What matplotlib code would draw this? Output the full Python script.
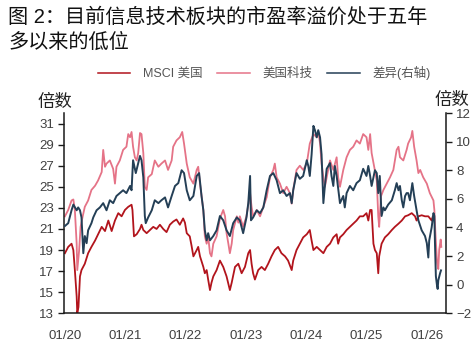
import numpy as np
import pandas as pd
import matplotlib
matplotlib.use("Agg")
import matplotlib.pyplot as plt
import matplotlib.dates as mdates

plt.rcParams['font.family'] = ['Liberation Sans', 'Noto Sans CJK SC', 'DejaVu Sans']

# ---- data (time as decimal year, P/E multiples) ----
tech_t = [2020.00, 2020.055, 2020.11, 2020.14, 2020.165, 2020.195, 2020.205, 2020.235, 2020.26, 2020.295,
          2020.33, 2020.385, 2020.44, 2020.50, 2020.55, 2020.61, 2020.635, 2020.665, 2020.69, 2020.745,
          2020.80, 2020.83, 2020.855, 2020.91, 2020.965, 2021.02, 2021.05, 2021.08, 2021.105, 2021.13,
          2021.16, 2021.19, 2021.215, 2021.245, 2021.27, 2021.30, 2021.325, 2021.355, 2021.38, 2021.44,
          2021.49, 2021.55, 2021.60, 2021.66, 2021.71, 2021.77, 2021.795, 2021.85, 2021.905, 2021.945,
          2021.975, 2022.02, 2022.07, 2022.13, 2022.185, 2022.21, 2022.24, 2022.295, 2022.32, 2022.35,
          2022.375, 2022.405, 2022.43, 2022.46, 2022.515, 2022.57, 2022.625, 2022.655, 2022.68, 2022.71,
          2022.735, 2022.765, 2022.79, 2022.85, 2022.875, 2022.90, 2022.955, 2023.01, 2023.07, 2023.095,
          2023.12, 2023.18, 2023.235, 2023.29, 2023.345, 2023.40, 2023.455, 2023.48, 2023.51, 2023.565,
          2023.62, 2023.675, 2023.73, 2023.76, 2023.785, 2023.84, 2023.895, 2023.95, 2024.01, 2024.06,
          2024.12, 2024.175, 2024.20, 2024.23, 2024.255, 2024.285, 2024.31, 2024.34, 2024.395, 2024.45,
          2024.505, 2024.53, 2024.56, 2024.615, 2024.67, 2024.725, 2024.78, 2024.835, 2024.89, 2024.945,
          2025.00, 2025.03, 2025.06, 2025.085, 2025.14, 2025.17, 2025.195, 2025.21, 2025.24, 2025.28,
          2025.335, 2025.39, 2025.445, 2025.50, 2025.53, 2025.555, 2025.61, 2025.665, 2025.69, 2025.74,
          2025.76, 2025.79, 2025.83, 2025.86, 2025.89, 2025.94, 2026.00, 2026.05, 2026.11, 2026.125,
          2026.145, 2026.17, 2026.19, 2026.205, 2026.23, 2026.24]
tech_pe = [22.2, 22.8, 23.7, 23.8, 22.8, 19.6, 17.1, 18.9, 21.2, 22.2,
           23.1, 23.7, 24.7, 25.1, 25.6, 26.4, 28.5, 26.9, 27.2, 27.5,
           26.7, 25.3, 26.9, 27.5, 28.5, 28.8, 30.0, 29.7, 30.2, 28.8,
           27.8, 27.5, 28.2, 30.1, 30.0, 28.2, 25.0, 24.7, 25.9, 26.2,
           27.5, 26.9, 27.2, 27.5, 26.6, 27.5, 28.8, 29.4, 29.7, 30.2,
           29.1, 27.2, 25.9, 25.3, 26.6, 26.9, 25.3, 22.8, 20.3, 19.6,
           20.3, 18.7, 18.4, 19.6, 20.3, 22.0, 22.8, 22.2, 20.6, 19.6,
           18.7, 19.6, 20.9, 22.2, 21.6, 22.2, 21.2, 22.2, 24.4, 23.1,
           22.2, 22.8, 22.2, 23.1, 24.0, 25.9, 26.6, 27.2, 25.9, 25.3,
           24.4, 25.0, 24.4, 23.4, 24.7, 26.6, 27.0, 26.6, 27.2, 29.1,
           30.0, 29.7, 30.3, 29.1, 27.2, 25.9, 25.0, 25.9, 27.5, 26.6,
           27.8, 25.9, 25.0, 26.6, 27.8, 28.5, 28.8, 29.4, 29.1, 30.0,
           29.7, 28.5, 30.0, 28.2, 26.5, 25.6, 22.2, 21.2, 24.1, 24.7,
           25.3, 25.9, 26.6, 28.5, 28.8, 27.8, 27.5, 28.5, 29.1, 29.7,
           30.3, 28.8, 27.5, 26.3, 26.6, 25.9, 25.3, 24.4, 23.7, 22.8,
           20.3, 17.8, 17.2, 19.0, 20.0, 19.3]

msci_t = [2020.00, 2020.055, 2020.11, 2020.14, 2020.165, 2020.195, 2020.205, 2020.225, 2020.25, 2020.275,
          2020.33, 2020.385, 2020.44, 2020.50, 2020.55, 2020.61, 2020.665, 2020.72, 2020.775, 2020.83,
          2020.885, 2020.94, 2020.995, 2021.05, 2021.105, 2021.12, 2021.145, 2021.19, 2021.245, 2021.27,
          2021.30, 2021.355, 2021.41, 2021.465, 2021.52, 2021.575, 2021.63, 2021.685, 2021.74, 2021.795,
          2021.85, 2021.905, 2021.96, 2021.99, 2022.02, 2022.07, 2022.10, 2022.13, 2022.185, 2022.21,
          2022.24, 2022.295, 2022.32, 2022.35, 2022.375, 2022.405, 2022.43, 2022.46, 2022.515, 2022.57,
          2022.625, 2022.68, 2022.735, 2022.765, 2022.82, 2022.875, 2022.93, 2022.985, 2023.04, 2023.07,
          2023.095, 2023.12, 2023.15, 2023.205, 2023.26, 2023.315, 2023.37, 2023.425, 2023.48, 2023.535,
          2023.59, 2023.65, 2023.70, 2023.76, 2023.785, 2023.84, 2023.895, 2023.95, 2024.01, 2024.06,
          2024.09, 2024.12, 2024.175, 2024.23, 2024.285, 2024.34, 2024.395, 2024.45, 2024.505, 2024.53,
          2024.56, 2024.615, 2024.67, 2024.725, 2024.78, 2024.835, 2024.89, 2024.945, 2025.00, 2025.03,
          2025.06, 2025.085, 2025.115, 2025.14, 2025.17, 2025.195, 2025.21, 2025.25, 2025.305, 2025.36,
          2025.42, 2025.47, 2025.53, 2025.585, 2025.64, 2025.69, 2025.75, 2025.805, 2025.83, 2025.86,
          2025.915, 2025.97, 2026.025, 2026.08, 2026.10]
msci_pe = [18.7, 19.3, 19.6, 19.0, 17.1, 14.6, 13.0, 13.6, 16.5, 17.1,
           17.7, 18.7, 19.3, 19.9, 20.5, 21.2, 20.8, 21.8, 20.8, 21.8,
           22.5, 22.2, 22.8, 23.1, 23.3, 22.8, 20.3, 20.5, 21.0, 21.4,
           20.9, 20.6, 20.9, 21.2, 21.0, 21.4, 21.0, 20.7, 21.4, 21.7,
           21.9, 21.4, 22.0, 21.6, 20.6, 20.3, 19.4, 18.4, 19.0, 19.3,
           18.4, 17.4, 16.8, 17.1, 16.2, 15.2, 15.9, 16.5, 17.1, 18.0,
           17.4, 16.5, 15.2, 15.9, 17.4, 17.7, 16.8, 17.4, 18.7, 19.0,
           17.7, 16.8, 16.2, 17.1, 17.4, 17.1, 17.7, 18.4, 19.0, 19.3,
           18.7, 18.4, 18.0, 17.1, 18.0, 19.0, 19.6, 20.2, 20.5, 20.9,
           19.9, 19.0, 19.3, 19.0, 18.7, 19.3, 19.6, 20.2, 20.5, 19.6,
           20.2, 20.5, 20.9, 21.2, 21.5, 21.8, 22.2, 22.2, 22.5, 21.8,
           22.8, 22.8, 19.6, 19.0, 18.7, 16.8, 18.4, 19.6, 20.2, 20.5,
           20.9, 21.2, 21.5, 21.8, 22.2, 22.3, 22.5, 22.2, 21.8, 22.2,
           22.3, 22.2, 22.2, 21.8, 22.2]

spread_t = [2020.00, 2020.055, 2020.11, 2020.14, 2020.195, 2020.22, 2020.25, 2020.275, 2020.305, 2020.33,
            2020.36, 2020.385, 2020.44, 2020.47, 2020.525, 2020.58, 2020.635, 2020.69, 2020.745, 2020.80,
            2020.855, 2020.91, 2020.965, 2021.02, 2021.08, 2021.105, 2021.13, 2021.175, 2021.215, 2021.245,
            2021.27, 2021.30, 2021.325, 2021.34, 2021.38, 2021.44, 2021.49, 2021.55, 2021.60, 2021.66,
            2021.71, 2021.77, 2021.825, 2021.88, 2021.935, 2021.975, 2022.02, 2022.07, 2022.13, 2022.185,
            2022.225, 2022.265, 2022.295, 2022.32, 2022.35, 2022.375, 2022.405, 2022.46, 2022.515, 2022.57,
            2022.625, 2022.68, 2022.735, 2022.79, 2022.85, 2022.90, 2022.955, 2023.01, 2023.04, 2023.07,
            2023.085, 2023.12, 2023.18, 2023.235, 2023.29, 2023.345, 2023.40, 2023.455, 2023.51, 2023.565,
            2023.62, 2023.675, 2023.73, 2023.76, 2023.785, 2023.84, 2023.895, 2023.95, 2024.01, 2024.035,
            2024.06, 2024.09, 2024.12, 2024.145, 2024.175, 2024.20, 2024.23, 2024.255, 2024.285, 2024.31,
            2024.34, 2024.395, 2024.42, 2024.45, 2024.475, 2024.505, 2024.56, 2024.615, 2024.64, 2024.67,
            2024.725, 2024.78, 2024.835, 2024.89, 2024.945, 2025.00, 2025.03, 2025.06, 2025.085, 2025.14,
            2025.17, 2025.195, 2025.22, 2025.25, 2025.28, 2025.305, 2025.36, 2025.42, 2025.47, 2025.50,
            2025.53, 2025.555, 2025.585, 2025.61, 2025.64, 2025.665, 2025.69, 2025.72, 2025.76, 2025.79,
            2025.83, 2025.86, 2025.915, 2025.97, 2026.00, 2026.025, 2026.04, 2026.08, 2026.11, 2026.125,
            2026.135, 2026.15, 2026.17, 2026.18, 2026.19, 2026.22, 2026.235]
spread = [4.1, 4.3, 5.2, 5.6, 5.2, 5.4, 5.2, 4.7, 2.2, 3.4,
          2.9, 3.8, 4.3, 4.7, 5.2, 5.4, 5.7, 5.2, 5.9, 5.7,
          6.2, 6.4, 6.6, 6.4, 6.9, 6.6, 8.7, 7.8, 8.5, 9.0,
          8.7, 7.5, 4.8, 4.3, 4.7, 5.2, 5.9, 5.7, 5.9, 6.1,
          5.4, 6.2, 6.9, 7.1, 8.0, 7.8, 6.6, 5.9, 6.2, 7.6,
          7.8, 6.2, 5.2, 3.8, 3.1, 3.6, 3.1, 3.4, 3.8, 4.8,
          4.5, 3.8, 3.4, 4.3, 4.7, 4.5, 3.6, 4.7, 5.7, 7.6,
          4.5, 4.7, 5.2, 5.0, 5.4, 6.6, 7.6, 7.8, 7.3, 6.4,
          6.6, 6.2, 6.4, 5.7, 6.6, 7.8, 7.4, 7.6, 8.7, 8.3,
          7.6, 9.1, 11.1, 10.8, 10.3, 10.8, 10.3, 9.1, 5.7, 6.9,
          8.1, 8.5, 7.6, 6.9, 8.3, 7.6, 5.7, 6.2, 5.4, 6.4,
          6.9, 6.6, 7.1, 7.3, 8.1, 7.6, 8.3, 7.6, 6.9, 8.0,
          7.8, 6.4, 7.6, 4.8, 5.4, 5.2, 5.6, 5.9, 6.6, 7.1,
          6.6, 6.9, 5.9, 5.4, 6.2, 6.4, 6.4, 5.9, 7.1, 6.2,
          5.2, 4.5, 3.8, 3.4, 2.9, 1.9, 3.1, 4.0, 5.0, 4.8,
          2.9, 0.6, -0.1, -0.3, 0.3, 0.8, 1.0]

left_ticks = list(range(13, 32, 2))
right_ticks = list(range(-2, 13, 2))
years = list(range(2020, 2027))

C_MSCI = '#B2141C'
C_TECH = '#E57387'
C_SPREAD = '#243F56'
TXT = '#404040'


def to_dates(t):
    t = np.asarray(t, dtype=float)
    return pd.Timestamp('2020-01-01') + pd.to_timedelta((t - 2020.0) * 365.25, unit='D')


fig = plt.figure(figsize=(4.77, 3.5), dpi=100)
ax = fig.add_axes([64.3 / 477, 1 - 313.3 / 350, (445.7 - 64.3) / 477, (313.3 - 113) / 350])
ax2 = ax.twinx()

l1, = ax.plot(to_dates(msci_t), msci_pe, color=C_MSCI, lw=1.3, label='MSCI 美国')
l2, = ax.plot(to_dates(tech_t), tech_pe, color=C_TECH, lw=1.3, label='美国科技')
l3, = ax2.plot(to_dates(spread_t), spread, color=C_SPREAD, lw=1.4, label='差异(右轴)')

ax.set_ylim(13, 32)
ax.set_yticks(left_ticks)
ax2.set_ylim(-2, 12)
ax2.set_yticks(right_ticks)

ax.set_xlim(to_dates([2019.99])[0], to_dates([2026.313])[0])
ax.set_xticks([pd.Timestamp(f'{y}-01-01') for y in years])
ax.xaxis.set_major_formatter(mdates.DateFormatter('%m/%y'))

for a in (ax, ax2):
    a.spines['top'].set_visible(False)
    for s in ('left', 'right', 'bottom'):
        a.spines[s].set_color('#1a1a1a')
        a.spines[s].set_linewidth(1.1)
ax.spines['right'].set_visible(False)
ax2.spines['left'].set_visible(False)
ax2.spines['bottom'].set_visible(False)

ax.tick_params(axis='y', direction='out', length=4.5, width=1.0, color='#1a1a1a',
               labelsize=9.5, labelcolor=TXT, pad=3)
ax2.tick_params(axis='y', direction='out', length=4.5, width=1.0, color='#1a1a1a',
                labelsize=9.5, labelcolor=TXT, pad=3)
ax.tick_params(axis='x', length=0, labelsize=9.5, labelcolor=TXT, pad=12)

fig.text(55 / 477, 1 - 102 / 350, '倍数', ha='center', va='center', fontsize=12.5, color='#222222')
fig.text(452 / 477, 1 - 100 / 350, '倍数', ha='center', va='center', fontsize=12.5, color='#222222')

fig.text(8 / 477, 1 - 17 / 350, '图 2：目前信息技术板块的市盈率溢价处于五年',
         ha='left', va='center', fontsize=14.5, color='#111111')
fig.text(8 / 477, 1 - 42 / 350, '多以来的低位',
         ha='left', va='center', fontsize=14.5, color='#111111')

leg = fig.legend(handles=[l1, l2, l3], loc='center', bbox_to_anchor=(264 / 477, 1 - 73 / 350),
                 ncol=3, frameon=False, fontsize=9, labelcolor='#555555',
                 handlelength=2.6, handletextpad=1.0, columnspacing=1.2)
for h in leg.get_lines():
    h.set_linewidth(1.1)

fig.savefig('out.png', dpi=100)
